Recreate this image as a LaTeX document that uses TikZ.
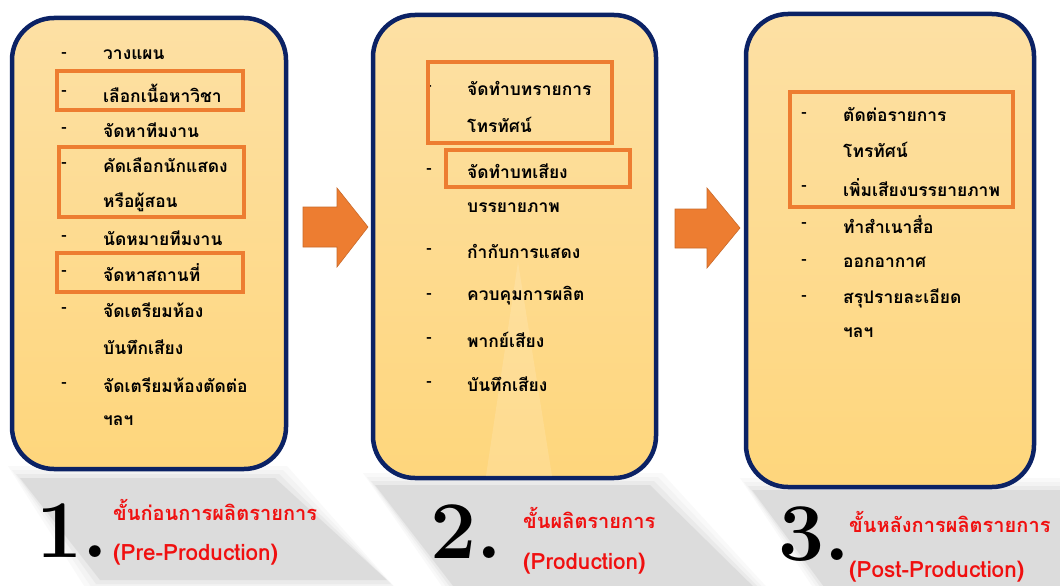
\documentclass[tikz,border=0pt]{standalone}
\usepackage{fontspec}
\newfontfamily\thai[Script=Thai]{Loma}
\definecolor{navy}{HTML}{0B2265}
\definecolor{orng}{HTML}{ED7D31}
\definecolor{lighttop}{HTML}{FDE0A4}
\definecolor{lightbot}{HTML}{FED67C}
\definecolor{shadowgray}{HTML}{D2D2D2}
\definecolor{redtext}{HTML}{F01010}
\tikzset{
  panel/.style={draw=navy, line width=4.5pt, rounded corners=42pt, top color=lighttop, bottom color=lightbot},
  hilite/.style={draw=orng, line width=4pt},
  item/.style={anchor=west, inner sep=0pt, font=\thai\bfseries\fontsize{17.4}{19}\selectfont},
  dashmark/.style={anchor=center, inner sep=0pt, font=\thai\bfseries\fontsize{16}{18}\selectfont},
  blockarrow/.style={fill=orng, draw=orng!85!black, line width=0.6pt},
  bignum/.style={anchor=base west, inner sep=0pt, font=\fontsize{82}{82}\selectfont\bfseries},
  stage/.style={anchor=west, inner sep=0pt, text=redtext, font=\thai\bfseries\fontsize{20}{22}\selectfont},
  stagelat/.style={anchor=west, inner sep=0pt, text=redtext, font=\thai\bfseries\fontsize{22.5}{24}\selectfont}
}
\begin{document}
\begin{tikzpicture}[x=1pt,y=-1pt]
\useasboundingbox (0,0) rectangle (1060,586);
\fill[white] (0,0) rectangle (1060,586);
% soft shadows
\foreach \o/\a in {12/0.12,8/0.15,4/0.25,0/0.55}{
  \fill[shadowgray, opacity=\a] (20-\o,478-\o) -- (275+\o,478-\o) -- (387+\o,580+\o) -- (100-\o,580+\o) -- cycle;
  \fill[shadowgray, opacity=\a] (375-\o,485-\o) -- (650+\o,485-\o) -- (762+\o,595) -- (460-\o,595) -- cycle;
  \fill[shadowgray, opacity=\a] (752-\o,490-\o) -- (1070,490-\o) -- (1070,595) -- (830-\o,595) -- cycle;
}
% panels
\path[panel] (12,18) rectangle (286,469);
\path[panel] (373,15) rectangle (656,478);
\path[panel] (746,14) rectangle (1034,487);
% faint watermark inside panel 2
\fill[white, opacity=0.14] (518,262) -- (552,476) -- (486,476) -- cycle;

% panel 1 items
\foreach \y/\t in {55/วางแผน, 93/เลือกเนื้อหาวิชา, 130/จัดหาทีมงาน, 165/คัดเลือกนักแสดง, 202/หรือผู้สอน, 238/นัดหมายทีมงาน, 273/จัดหาสถานที่, 310/จัดเตรียมห้อง, 347/บันทึกเสียง, 385/จัดเตรียมห้องตัดต่อ, 421/ฯลฯ}{
  \node[item] at (103,\y) {\t};
}
\foreach \y in {55,93,130,165,238,273,310,385}{
  \node[dashmark] at (64,\y) {-};
}
\draw[hilite] (57,71) rectangle (243,110);
\draw[hilite] (59,147) rectangle (244,217);
\draw[hilite] (57,253) rectangle (243,292);

% panel 2 items
\foreach \y/\t in {88/จัดทำบทรายการ, 125/โทรทัศน์, 171/จัดทำบทเสียง, 208/บรรยายภาพ, 251/กำกับการแสดง, 296/ควบคุมการผลิต, 340/พากย์เสียง, 384/บันทึกเสียง}{
  \node[item] at (467,\y) {\t};
}
\foreach \y in {88,171,251,296,340,384}{
  \node[dashmark] at (429,\y) {-};
}
\draw[hilite] (428,62) rectangle (612,143);
\draw[hilite] (446,150) rectangle (630,187);

% panel 3 items
\foreach \y/\t in {115/ตัดต่อรายการ, 150/โทรทัศน์, 188/เพิ่มเสียงบรรยายภาพ, 225/ทำสำเนาสื่อ, 262/ออกอากาศ, 298/สรุปรายละเอียด, 333/ฯลฯ}{
  \node[item] at (843,\y) {\t};
}
\foreach \y in {115,188,225,262,298}{
  \node[dashmark] at (804,\y) {-};
}
\draw[hilite] (790,92) rectangle (1013,207);

% block arrows
\draw[blockarrow] (303,207) -- (337,207) -- (337,188) -- (368,227) -- (337,267) -- (337,247) -- (303,247) -- cycle;
\draw[blockarrow] (675,209) -- (707,209) -- (707,188) -- (740,228) -- (707,268) -- (707,248) -- (675,248) -- cycle;

% stage labels
\node[bignum] (n1) at (36,557) {1.};
\node[bignum] (n2) at (430,558) {2.};
\node[bignum] (n3) at (778,560) {3.};
\node[stage] (s1a) at (113,510) {ขั้นก่อนการผลิตรายการ};
\node[stagelat] (s1b) at (113,555) {(Pre-Production)};
\node[stage] (s2a) at (523,518) {ขั้นผลิตรายการ};
\node[stagelat] (s2b) at (523,564) {(Production)};
\node[stage] (s3a) at (849,522) {ขั้นหลังการผลิตรายการ};
\node[stagelat] (s3b) at (849,572) {(Post-Production)};
\end{tikzpicture}
\end{document}
